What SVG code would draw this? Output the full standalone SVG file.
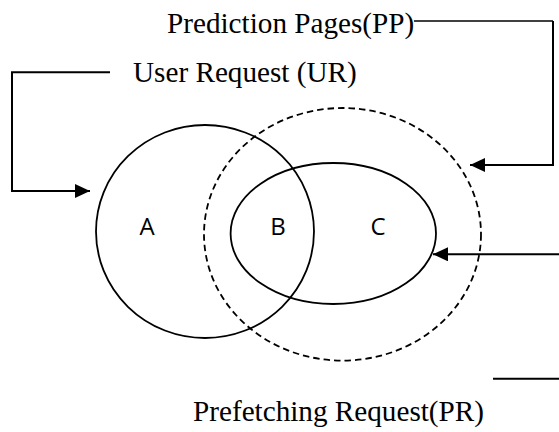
<svg xmlns="http://www.w3.org/2000/svg" width="559" height="432" viewBox="0 0 559 432">
<style>
.ring{fill:none;stroke:#000;stroke-width:1.8}
.dash{stroke-dasharray:6.5 4}
.conn{fill:none;stroke:#000;stroke-width:2}
.thin{stroke-width:1.4}
.lbl{font-family:"Liberation Serif","Times New Roman",serif;font-size:29.2px;fill:#000}
.set{font-family:"Open Sans","Liberation Sans",Arial,sans-serif;font-size:24px;fill:#000;text-anchor:middle}
</style>
<defs>
<marker id="ah" markerWidth="15" markerHeight="14" refX="15" refY="7" orient="auto" markerUnits="userSpaceOnUse">
<path d="M0,0 L15,7 L0,14 Z" fill="#000"/>
</marker>
</defs>
<rect width="559" height="432" fill="#fff"/>
<g id="setUR">
<ellipse class="ring" cx="205" cy="231.5" rx="109" ry="106.5"/>
<text class="set" x="147" y="235">A</text>
</g>
<g id="setPP">
<ellipse class="ring dash" cx="342.5" cy="234.3" rx="138.5" ry="126.3"/>
</g>
<g id="setPR">
<ellipse class="ring" cx="333.3" cy="233.5" rx="102.7" ry="70.5"/>
<text class="set" x="278" y="235">B</text>
<text class="set" x="378" y="235">C</text>
</g>
<g id="labelPP"><text class="lbl" x="167" y="33">Prediction Pages(PP)</text></g>
<g id="labelUR"><text class="lbl" x="133" y="82">User Request (UR)</text></g>
<g id="labelPR"><text class="lbl" x="193" y="421">Prefetching Request(PR)</text></g>
<g id="connectors">
<path class="conn" d="M110,72.3 H12 V191 H90" marker-end="url(#ah)"/>
<path class="conn thin" d="M414,21 H553"/>
<path class="conn" d="M553,21 V165 H470" marker-end="url(#ah)"/>
<path class="conn" d="M559,254.3 H433" marker-end="url(#ah)"/>
<path class="conn" d="M493,378.7 H559"/>
</g>
</svg>
